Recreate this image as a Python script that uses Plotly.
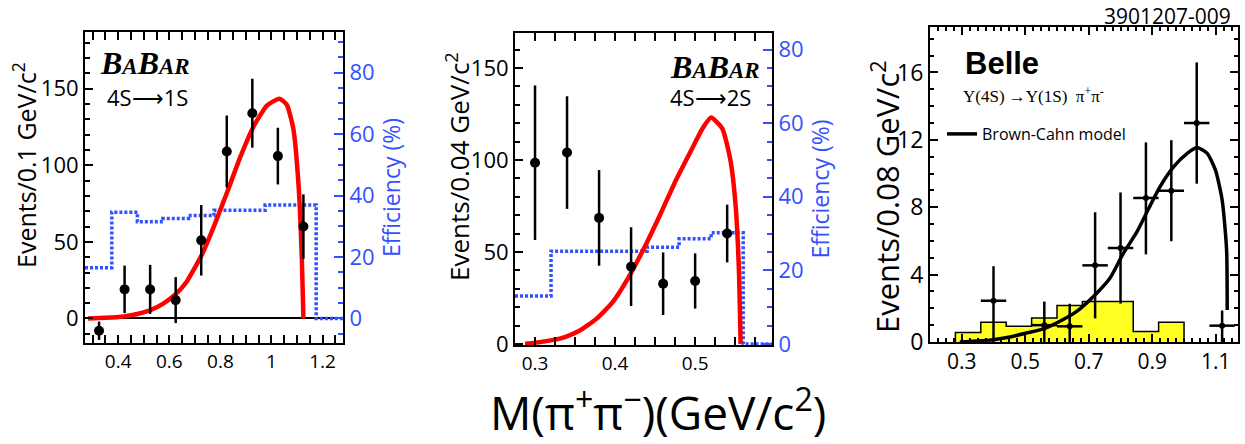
import plotly.graph_objects as go

W, H = 1245, 444

# ---------------- data: panel 1 (BaBar 4S->1S) ----------------
m1 = [0.325, 0.425, 0.525, 0.625, 0.725, 0.825, 0.925, 1.025, 1.125]
n1 = [-8, 19, 19, 12, 51, 109, 134, 106, 60]
e1 = [6, 15.5, 16, 15, 23, 23.5, 22.5, 18.5, 21]
fit1_x = [0.282, 0.35, 0.422, 0.47, 0.524, 0.575, 0.626, 0.668, 0.727, 0.773,
          0.829, 0.877, 0.929, 0.982, 1.031, 1.060, 1.086, 1.106, 1.119, 1.125]
fit1_y = [0, 0.4, 1.3, 2.8, 5.3, 9.5, 16, 24, 41.5, 59.5,
          83.5, 105, 125, 139, 143.5, 139.5, 123.5, 87, 38.5, 0]
eff1_lo = [0.27, 0.375, 0.475, 0.575, 0.675, 0.775, 0.875, 0.975, 1.075, 1.175]
eff1_val = [16.5, 34.6, 31.5, 32.5, 33.5, 35.2, 35.2, 36.9, 36.9, 0]
eff1_end = 1.28

# ---------------- data: panel 2 (BaBar 4S->2S) ----------------
m2 = [0.30, 0.34, 0.38, 0.42, 0.46, 0.50, 0.54]
n2 = [98.5, 104, 68.5, 42, 32.7, 34.2, 60]
e2 = [42, 30.6, 26, 21.4, 17, 15, 15.7]
fit2_x = [0.2876, 0.298, 0.3227, 0.3364, 0.356, 0.3766, 0.397, 0.417, 0.439, 0.457,
          0.476, 0.4975, 0.509, 0.520, 0.534, 0.544, 0.5506, 0.5547, 0.5568]
fit2_y = [0, 0.5, 2.2, 3.6, 7.3, 13.6, 22.7, 36.3, 54.5, 70.9,
          89, 107.3, 117, 123, 117, 100, 75, 40, 0]
eff2_lo = [0.275, 0.32, 0.36, 0.40, 0.44, 0.48, 0.52, 0.56]
eff2_val = [13, 25.2, 25.2, 25.2, 26.3, 28.6, 30.2, 0]
eff2_end = 0.596

# ---------------- data: panel 3 (Belle) ----------------
m3 = [0.40, 0.56, 0.64, 0.72, 0.80, 0.88, 0.96, 1.04, 1.12]
n3 = [2.45, 1.0, 0.93, 4.55, 5.58, 8.55, 8.98, 13.0, 0.97]
e3_up = [2.05, 1.4, 1.34, 3.15, 3.3, 3.3, 3.0, 3.6, 0.9]
e3_dn = [2.45, 1.0, 0.93, 3.15, 3.3, 3.35, 3.0, 3.6, 0.97]
e3_x = [0.04, 0.04, 0.04, 0.04, 0.04, 0.04, 0.04, 0.04, 0.04]
bkg3_lo = [0.28, 0.36, 0.44, 0.52, 0.60, 0.68, 0.76, 0.84, 0.92]
bkg3_val = [0.57, 1.17, 0.93, 1.42, 2.16, 2.41, 2.41, 0.63, 1.17]
bkg3_end = 1.00
fit3_x = [0.294, 0.399, 0.452, 0.504, 0.564, 0.609, 0.662, 0.725, 0.767, 0.807,
          0.852, 0.888, 0.925, 0.967, 1.010, 1.041, 1.073, 1.099, 1.120, 1.134, 1.136]
fit3_y = [0, 0.14, 0.3, 0.53, 0.83, 1.23, 1.82, 2.9, 3.8, 5.2,
          6.55, 7.9, 9.24, 10.4, 11.2, 11.55, 11.2, 10.2, 8.45, 5.5, 1.9]

# tick labels
xt1 = [0.4, 0.6, 0.8, 1.0, 1.2]
xt1_txt = ["0.4", "0.6", "0.8", "1", "1.2"]
xt2 = [0.3, 0.4, 0.5]
xt2_txt = ["0.3", "0.4", "0.5"]
xt3 = [0.3, 0.5, 0.7, 0.9, 1.1]
xt3_txt = ["0.3", "0.5", "0.7", "0.9", "1.1"]
yt_ev = [0, 50, 100, 150]
yt_eff = [0, 20, 40, 60, 80]
yt3 = [0, 4, 8, 12, 16]

BLUE = "#3350ff"
SANS = "Open Sans, Noto Sans, Arial"
SERIF = "Liberation Serif, Times New Roman, serif"


def px_x(a):
    return a / W


def px_y(b):
    return 1 - b / H


def dom_x(a, b):
    return [a / W, b / W]


def dom_y(top, bottom):
    return [1 - bottom / H, 1 - top / H]


fig = go.Figure()

# ---- panel 1 ----
fig.add_trace(go.Scatter(
    x=eff1_lo + [eff1_end], y=eff1_val + [eff1_val[-1]], xaxis="x", yaxis="y",
    mode="lines", line=dict(color=BLUE, width=3.5, dash="3px,2px", shape="hv"),
    showlegend=False, hoverinfo="skip"))
fig.add_trace(go.Scatter(
    x=fit1_x, y=fit1_y, xaxis="x", yaxis="y2", mode="lines",
    line=dict(color="red", width=4.5, shape="spline", smoothing=0.5),
    showlegend=False))
fig.add_trace(go.Scatter(
    x=m1, y=n1, xaxis="x", yaxis="y2", mode="markers",
    marker=dict(color="black", size=10),
    error_y=dict(type="data", array=e1, color="black", thickness=2.5, width=0),
    showlegend=False))

# ---- panel 2 ----
fig.add_trace(go.Scatter(
    x=eff2_lo + [eff2_end], y=eff2_val + [eff2_val[-1]], xaxis="x2", yaxis="y3",
    mode="lines", line=dict(color=BLUE, width=3.5, dash="3px,2px", shape="hv"),
    showlegend=False, hoverinfo="skip"))
fig.add_trace(go.Scatter(
    x=fit2_x, y=fit2_y, xaxis="x2", yaxis="y4", mode="lines",
    line=dict(color="red", width=4.5, shape="spline", smoothing=0.5),
    showlegend=False))
fig.add_trace(go.Scatter(
    x=m2, y=n2, xaxis="x2", yaxis="y4", mode="markers",
    marker=dict(color="black", size=10),
    error_y=dict(type="data", array=e2, color="black", thickness=2.5, width=0),
    showlegend=False))

# ---- panel 3 ----
fig.add_trace(go.Scatter(
    x=[bkg3_lo[0]] + bkg3_lo + [bkg3_end], y=[0] + bkg3_val + [0],
    xaxis="x3", yaxis="y5", mode="lines", fill="tozeroy", fillcolor="#ffff22",
    line=dict(color="black", width=1.5, shape="hv"), showlegend=False))
fig.add_trace(go.Scatter(
    x=fit3_x, y=fit3_y, xaxis="x3", yaxis="y5", mode="lines",
    line=dict(color="black", width=3.5, shape="spline", smoothing=0.6),
    name="Brown-Cahn model", showlegend=True))
fig.add_trace(go.Scatter(
    x=m3, y=n3, xaxis="x3", yaxis="y5", mode="markers",
    marker=dict(color="black", size=6),
    error_y=dict(type="data", array=e3_up, arrayminus=e3_dn, color="black", thickness=2.5, width=0),
    error_x=dict(type="data", array=e3_x, color="black", thickness=2.5, width=0),
    showlegend=False))

tick_common = dict(ticks="inside", tickcolor="black", ticklen=8, tickwidth=1.5,
                   showgrid=False, zeroline=False, automargin=False,
                   showline=True, linecolor="black", linewidth=2)

ev1_range = [-16, 187]
ev2_range = [-0.6, 169]

layout = dict(
    width=W, height=H,
    margin=dict(l=0, r=0, t=0, b=0),
    paper_bgcolor="white", plot_bgcolor="white",
    font=dict(family=SANS, color="black", size=18),
    # panel 1
    xaxis=dict(domain=dom_x(85, 343), anchor="y", range=[0.27, 1.28],
               tickvals=xt1, ticktext=xt1_txt, tickfont=dict(size=19),
               mirror="allticks",
               minor=dict(ticks="inside", dtick=0.05, tick0=0, ticklen=4, tickcolor="black"),
               **tick_common),
    yaxis=dict(domain=dom_y(32, 343), anchor="x", side="right",
               range=[ev1_range[0] / 2.006, ev1_range[1] / 2.006],
               tickvals=yt_eff, tickfont=dict(size=22, color=BLUE),
               title=dict(text="Efficiency (%)", font=dict(size=23, color=BLUE), standoff=6),
               minor=dict(ticks="inside", dtick=5, ticklen=5, tickcolor=BLUE),
               **{**tick_common, "tickcolor": BLUE, "ticklen": 9}),
    yaxis2=dict(overlaying="y", anchor="x", side="left", range=ev1_range,
                tickvals=yt_ev, tickfont=dict(size=22),
                minor=dict(ticks="inside", dtick=10, ticklen=5, tickcolor="black"),
                **{**tick_common, "zeroline": True, "zerolinecolor": "black", "zerolinewidth": 2}),
    # panel 2
    xaxis2=dict(domain=dom_x(515, 772), anchor="y3", range=[0.275, 0.596],
                tickvals=xt2, ticktext=xt2_txt, tickfont=dict(size=19),
                mirror="allticks",
                minor=dict(ticks="inside", dtick=0.025, tick0=0, ticklen=4, tickcolor="black"),
                **tick_common),
    yaxis3=dict(domain=dom_y(33, 345), anchor="x2", side="right",
                range=[ev2_range[0] / 2.0, ev2_range[1] / 2.0],
                tickvals=yt_eff, tickfont=dict(size=22, color=BLUE),
                title=dict(text="Efficiency (%)", font=dict(size=23, color=BLUE), standoff=6),
                minor=dict(ticks="inside", dtick=5, ticklen=5, tickcolor=BLUE),
                **{**tick_common, "tickcolor": BLUE, "ticklen": 9}),
    yaxis4=dict(overlaying="y3", anchor="x2", side="left", range=ev2_range,
                tickvals=yt_ev, tickfont=dict(size=22),
                minor=dict(ticks="inside", dtick=10, ticklen=5, tickcolor="black"),
                **tick_common),
    # panel 3
    xaxis3=dict(domain=dom_x(930, 1238), anchor="y5", range=[0.2, 1.17],
                tickvals=xt3, ticktext=xt3_txt, tickfont=dict(size=21),
                mirror="allticks",
                minor=dict(ticks="inside", dtick=0.025, tick0=0, ticklen=4, tickcolor="black"),
                **tick_common),
    yaxis5=dict(domain=dom_y(27, 342), anchor="x3", range=[0, 18.7],
                tickvals=yt3, tickfont=dict(size=23),
                mirror="allticks",
                minor=dict(ticks="inside", dtick=1, ticklen=4, tickcolor="black"),
                **tick_common),
    legend=dict(x=px_x(942), y=px_y(134), xanchor="left", yanchor="middle",
                bgcolor="rgba(0,0,0,0)", font=dict(size=16, family=SANS),
                itemwidth=30, tracegroupgap=0),
)
fig.update_layout(**layout)

babar = ('<b><i>B<span style="font-size:23px">A</span>B'
         '<span style="font-size:23px">AR</span></i></b>')

annots = [
    # y titles
    dict(text="Events/0.1 GeV/c<sup>2</sup>", x=px_x(24), y=px_y(165), textangle=-90,
         font=dict(size=25)),
    dict(text="Events/0.04 GeV/c<sup>2</sup>", x=px_x(458), y=px_y(167), textangle=-90,
         font=dict(size=26)),
    dict(text="Events/0.08 GeV/c<sup>2</sup>", x=px_x(885), y=px_y(197), textangle=-90,
         font=dict(size=31)),
    # BaBar logos
    dict(text=babar, x=px_x(145), y=px_y(63), font=dict(size=32, family=SERIF)),
    dict(text="4S\u27f61S", x=px_x(147), y=px_y(97), font=dict(size=22)),
    dict(text=babar, x=px_x(715), y=px_y(67), font=dict(size=32, family=SERIF)),
    dict(text="4S\u27f62S", x=px_x(710), y=px_y(97), font=dict(size=22)),
    # Belle
    dict(text="<b>Belle</b>", x=px_x(1002), y=px_y(63),
         font=dict(size=31, family="Liberation Sans, Arial")),
    dict(text="\u03a5(4S) \u2192\u03a5(1S)  \u03c0<sup>+</sup>\u03c0<sup>-</sup>",
         x=px_x(961), y=px_y(95), xanchor="left", font=dict(size=17, family=SERIF)),
    dict(text="3901207-009", x=px_x(1233), y=px_y(16), xanchor="right",
         font=dict(size=21)),
    # common x title
    dict(text="M(\u03c0<sup>+</sup>\u03c0<sup>\u2212</sup>)(GeV/c<sup>2</sup>)",
         x=px_x(658), y=px_y(410), font=dict(size=46)),
]
for a in annots:
    a.setdefault("xref", "paper")
    a.setdefault("yref", "paper")
    a.setdefault("showarrow", False)
    a.setdefault("xanchor", "center")
    a.setdefault("yanchor", "middle")
fig.update_layout(annotations=annots)

fig.write_html("out.html",
               config={"displayModeBar": False},
               post_script="document.body.style.margin='0px';document.body.style.overflow='hidden';")
